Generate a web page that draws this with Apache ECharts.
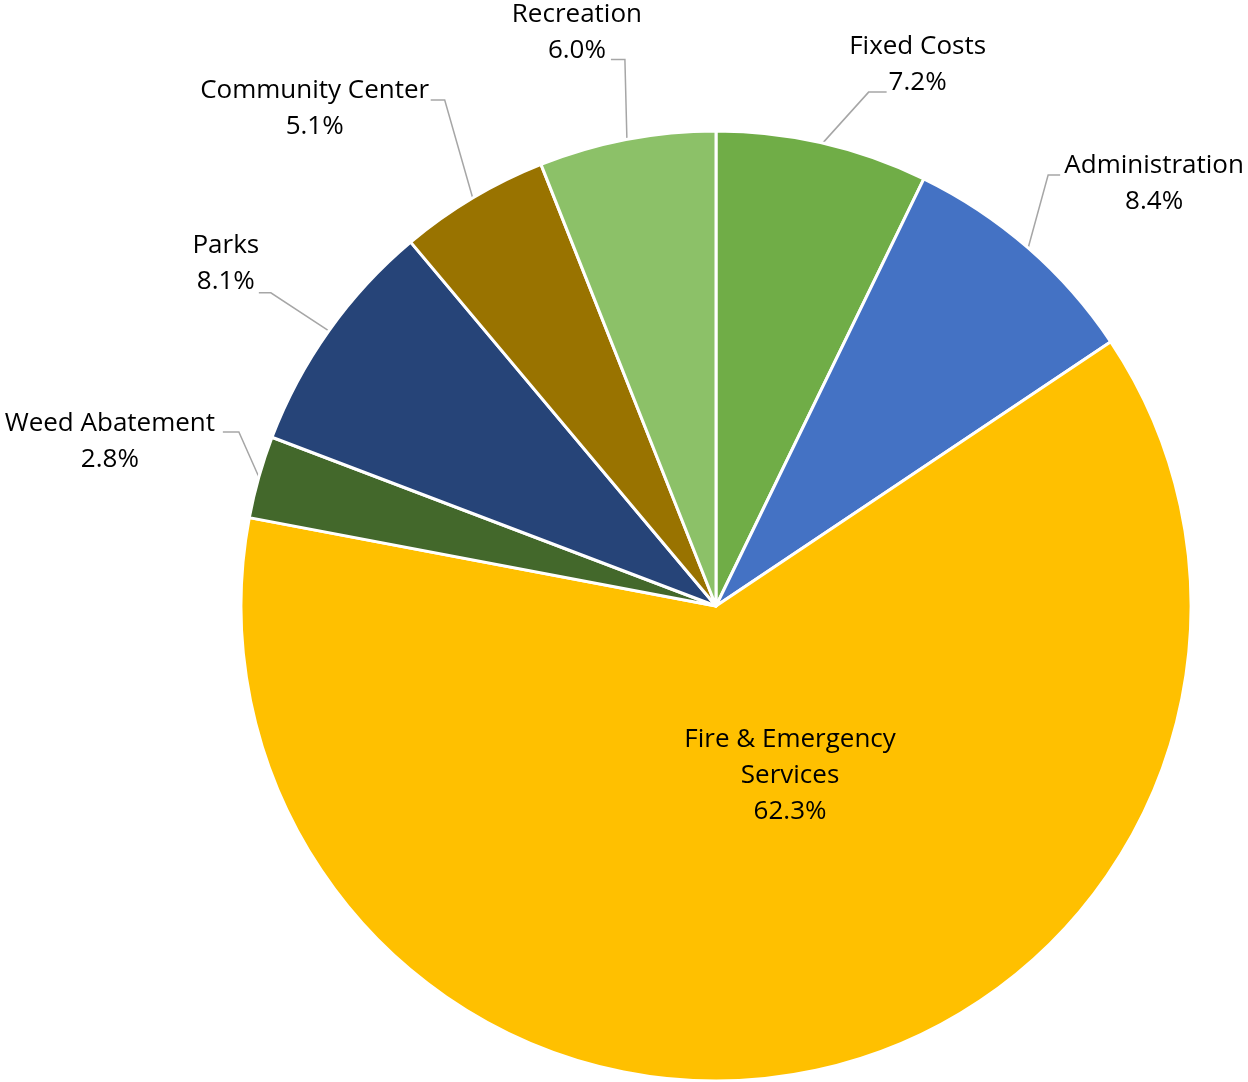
<!DOCTYPE html>
<html>
<head>
<meta charset="utf-8">
<script src="https://cdn.jsdelivr.net/npm/echarts@6/dist/echarts.min.js"></script>
<style>
  html, body { margin: 0; padding: 0; background: #fff; }
  #chart { width: 1248px; height: 1082px; }
</style>
</head>
<body>
<div id="chart"></div>
<script>
// budget shares, clockwise from 12 o'clock
const categories = ['Fixed Costs', 'Administration', 'Fire & Emergency Services', 'Weed Abatement', 'Parks', 'Community Center', 'Recreation'];
const shares = [7.2, 8.4, 62.3, 2.8, 8.1, 5.1, 6.0];
const sliceColors = ['#70AD47', '#4472C4', '#FFC000', '#43682B', '#264478', '#997300', '#8CC168'];

// leader line shape per label: elbow offset from slice edge, horizontal stub, text centre from line end
const leaders = [
  { elbow: [46, -51], stub: 18, text: [31, -28] },
  { elbow: [20, -73], stub: 12, text: [94, 9] },
  null,
  { elbow: [-20, -45], stub: -16, text: [-113, 10] },
  { elbow: [-58, -38], stub: -12, text: [-33, -29] },
  { elbow: [-28, -98], stub: -14, text: [-116, 9] },
  { elbow: [-2, -80], stub: -14, text: [-34, -27] }
];

const chart = echarts.init(document.getElementById('chart'));

const pieData = categories.map((name, i) => {
  const item = { name: name, value: shares[i], itemStyle: { color: sliceColors[i] } };
  if (!leaders[i]) {
    item.label = { position: 'inside' };
    item.labelLine = { show: false };
  }
  return item;
});

chart.setOption({
  animation: false,
  backgroundColor: '#ffffff',
  series: [{
    type: 'pie',
    center: [716, 606],
    radius: 475,
    startAngle: 90,
    clockwise: true,
    avoidLabelOverlap: false,
    itemStyle: { borderColor: '#ffffff', borderWidth: 3 },
    label: {
      show: true,
      position: 'outside',
      color: '#000000',
      fontFamily: 'Open Sans',
      fontSize: 26,
      lineHeight: 36,
      align: 'center',
      formatter: p => {
        const name = p.name === 'Fire & Emergency Services' ? 'Fire & Emergency\nServices' : p.name;
        return name + '\n' + p.value.toFixed(1) + '%';
      }
    },
    labelLine: {
      show: true,
      length: 40,
      length2: 15,
      lineStyle: { color: '#A6A6A6', width: 1.5 }
    },
    labelLayout: params => {
      const l = leaders[params.dataIndex];
      if (!l) {
        return { dx: 26, dy: -66 };
      }
      const pts = params.labelLinePoints;
      if (!pts) return {};
      const start = pts[0];
      const elbow = [start[0] + l.elbow[0], start[1] + l.elbow[1]];
      const end = [elbow[0] + l.stub, elbow[1]];
      return {
        x: end[0] + l.text[0],
        y: end[1] + l.text[1],
        align: 'center',
        verticalAlign: 'middle',
        labelLinePoints: [start, elbow, end]
      };
    },
    emphasis: { disabled: true },
    data: pieData
  }]
});
</script>
</body>
</html>
